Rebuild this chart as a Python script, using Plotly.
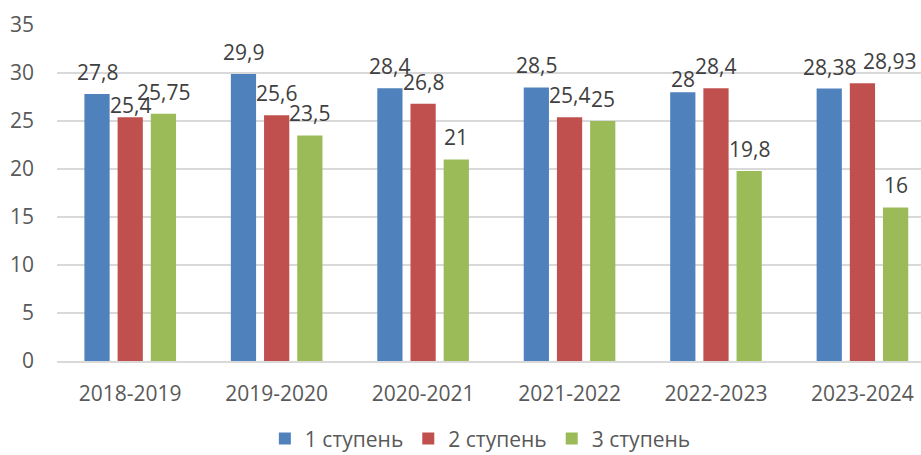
import plotly.graph_objects as go

categories = ["2018-2019", "2019-2020", "2020-2021", "2021-2022", "2022-2023", "2023-2024"]
stage1 = [27.8, 29.9, 28.4, 28.5, 28, 28.38]
stage2 = [25.4, 25.6, 26.8, 25.4, 28.4, 28.93]
stage3 = [25.75, 23.5, 21, 25, 19.8, 16]
names = ["1 ступень", "2 ступень", "3 ступень"]
colors = ["#4F81BD", "#C0504D", "#9BBB59"]

BARGAP = 0.32
BARGROUPGAP = 0.24
# label nudges in px (series index, category index) -> (dx, dy), to mimic overlap avoidance
label_nudge = {(1, 0): (0, -10), (0, 4): (0, -9), (1, 5): (27, 0)}

def fmt(v):
    return f"{v:g}".replace(".", ",")

fig = go.Figure()
series = [stage1, stage2, stage3]
for name, vals, col in zip(names, series, colors):
    fig.add_trace(go.Bar(
        x=categories, y=vals, name=name,
        marker=dict(color=col, line=dict(width=0)),
    ))

slot = (1 - BARGAP) / len(series)
annotations = []
for si, vals in enumerate(series):
    off = (si - (len(series) - 1) / 2) * slot
    for ci, v in enumerate(vals):
        dx, dy = label_nudge.get((si, ci), (0, 0))
        annotations.append(dict(
            x=ci + off, y=v, xref="x", yref="y", text=fmt(v), showarrow=False,
            xanchor="center", yanchor="bottom", yshift=6 + dy, xshift=dx,
            font=dict(size=21, color="#404040", family="Open Sans"),
        ))

fig.update_layout(
    width=921, height=455,
    margin=dict(l=57, r=0, t=25, b=94, autoexpand=False),
    paper_bgcolor="white", plot_bgcolor="white",
    barmode="group", bargap=BARGAP, bargroupgap=BARGROUPGAP,
    font=dict(family="Open Sans", size=21, color="#595959"),
    xaxis=dict(range=[-0.5, 5.4], showgrid=False, showline=True, linecolor="#D9D9D9",
               linewidth=1.5, ticks="", automargin=False, ticklabelstandoff=13,
               tickfont=dict(size=21, color="#595959")),
    yaxis=dict(range=[0, 35], dtick=5, showgrid=True, gridcolor="#D9D9D9", gridwidth=1.5,
               zeroline=False, showline=False, ticks="", automargin=False,
               ticklabelstandoff=22,
               tickfont=dict(size=21, color="#595959")),
    legend=dict(orientation="h", x=0.49, xanchor="center", y=-0.232, yanchor="middle",
                font=dict(size=21, color="#595959"), traceorder="normal"),
    annotations=annotations,
)

fig.write_html("out.html", config={"displayModeBar": False},
               post_script="document.body.style.margin='0';")
